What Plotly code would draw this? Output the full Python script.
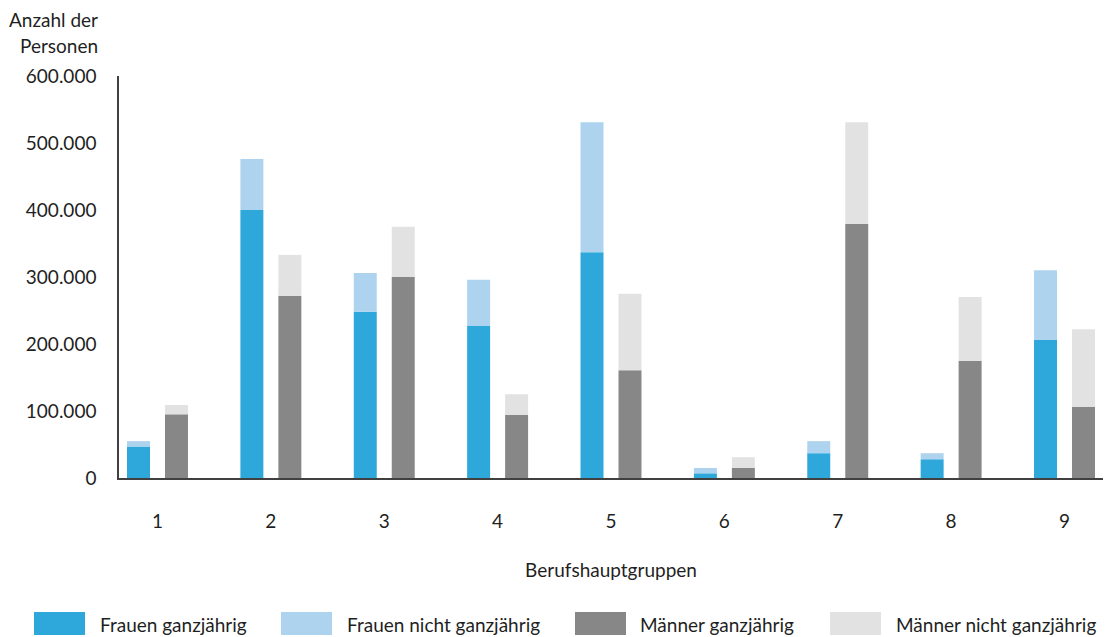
import plotly.graph_objects as go

categories = ["1", "2", "3", "4", "5", "6", "7", "8", "9"]
frauen_ganz = [47000, 400000, 248000, 227000, 337000, 7000, 37000, 28000, 206000]
frauen_nicht = [8000, 76000, 58000, 69000, 194000, 8000, 18000, 9000, 104000]
maenner_ganz = [95000, 272000, 300000, 94000, 161000, 15000, 379000, 175000, 106000]
maenner_nicht = [14000, 61000, 75000, 31000, 114000, 16000, 152000, 95000, 116000]
y_ticks = [0, 100000, 200000, 300000, 400000, 500000, 600000]
y_tick_labels = ["0", "100.000", "200.000", "300.000", "400.000", "500.000", "600.000"]
legend_names = ["Frauen ganzjährig", "Frauen nicht ganzjährig", "Männer ganzjährig", "Männer nicht ganzjährig"]

C_FG = "#2EA7DB"
C_FN = "#AED3EE"
C_MG = "#878787"
C_MN = "#E2E2E2"
FONT = "Lato"
FS = 19
TXT = "#1f1f1f"

fig = go.Figure()
fig.add_trace(go.Bar(x=categories, y=frauen_ganz, name=legend_names[0], offsetgroup="F",
                     marker=dict(color=C_FG, line=dict(width=0))))
fig.add_trace(go.Bar(x=categories, y=frauen_nicht, base=frauen_ganz, name=legend_names[1], offsetgroup="F",
                     marker=dict(color=C_FN, line=dict(width=0))))
fig.add_trace(go.Bar(x=categories, y=maenner_ganz, name=legend_names[2], offsetgroup="M",
                     marker=dict(color=C_MG, line=dict(width=0))))
fig.add_trace(go.Bar(x=categories, y=maenner_nicht, base=maenner_ganz, name=legend_names[3], offsetgroup="M",
                     marker=dict(color=C_MN, line=dict(width=0))))

fig.update_layout(
    width=1112, height=637,
    margin=dict(l=119, r=9, t=76, b=159),
    paper_bgcolor="white", plot_bgcolor="white",
    barmode="group", bargap=0.33, bargroupgap=0.395,
    showlegend=False,
    font=dict(family=FONT, size=FS, color=TXT),
    xaxis=dict(type="category", range=[-0.3395, 8.3395], showgrid=False, zeroline=False,
               showline=True, linecolor="#404040", linewidth=2, ticks="",
               ticklabelstandoff=25, tickfont=dict(size=FS, color=TXT),
               title=dict(text="Berufshauptgruppen", standoff=33, font=dict(size=FS, color=TXT))),
    yaxis=dict(range=[0, 600000], tickvals=y_ticks, ticktext=y_tick_labels, showgrid=False,
               zeroline=False, showline=True, linecolor="#404040", linewidth=1.5, ticks="",
               ticklabelstandoff=17, tickfont=dict(size=FS, color=TXT)),
)

fig.add_annotation(xref="paper", yref="paper", x=-0.019, y=1.0, yshift=57, xanchor="right", yanchor="middle",
                   text="Anzahl der", showarrow=False, align="right", font=dict(size=FS, color=TXT))
fig.add_annotation(xref="paper", yref="paper", x=-0.019, y=1.0, yshift=31, xanchor="right", yanchor="middle",
                   text="Personen", showarrow=False, align="right", font=dict(size=FS, color=TXT))

# custom legend with large swatches (paper coordinates)
plot_w = 1112 - 119 - 9
plot_h = 637 - 76 - 159
def px_x(px):
    return (px - 119) / plot_w
def px_y(py):
    return (637 - 159 - py) / plot_h

legend_items = [(34, 98, C_FG), (281, 345, C_FN), (575, 638, C_MG), (830, 894, C_MN)]
for (sx, tx, col), name in zip(legend_items, legend_names):
    fig.add_shape(type="rect", xref="paper", yref="paper",
                  x0=px_x(sx), x1=px_x(sx + 51), y0=px_y(635), y1=px_y(612),
                  fillcolor=col, line=dict(width=0))
    fig.add_annotation(xref="paper", yref="paper", x=px_x(tx), y=px_y(624), xanchor="left",
                       yanchor="middle", text=name, showarrow=False, font=dict(size=FS, color=TXT))

fig.write_html("out.html", config={"displayModeBar": False},
               post_script="document.body.style.margin='0';document.body.style.overflow='hidden';")
